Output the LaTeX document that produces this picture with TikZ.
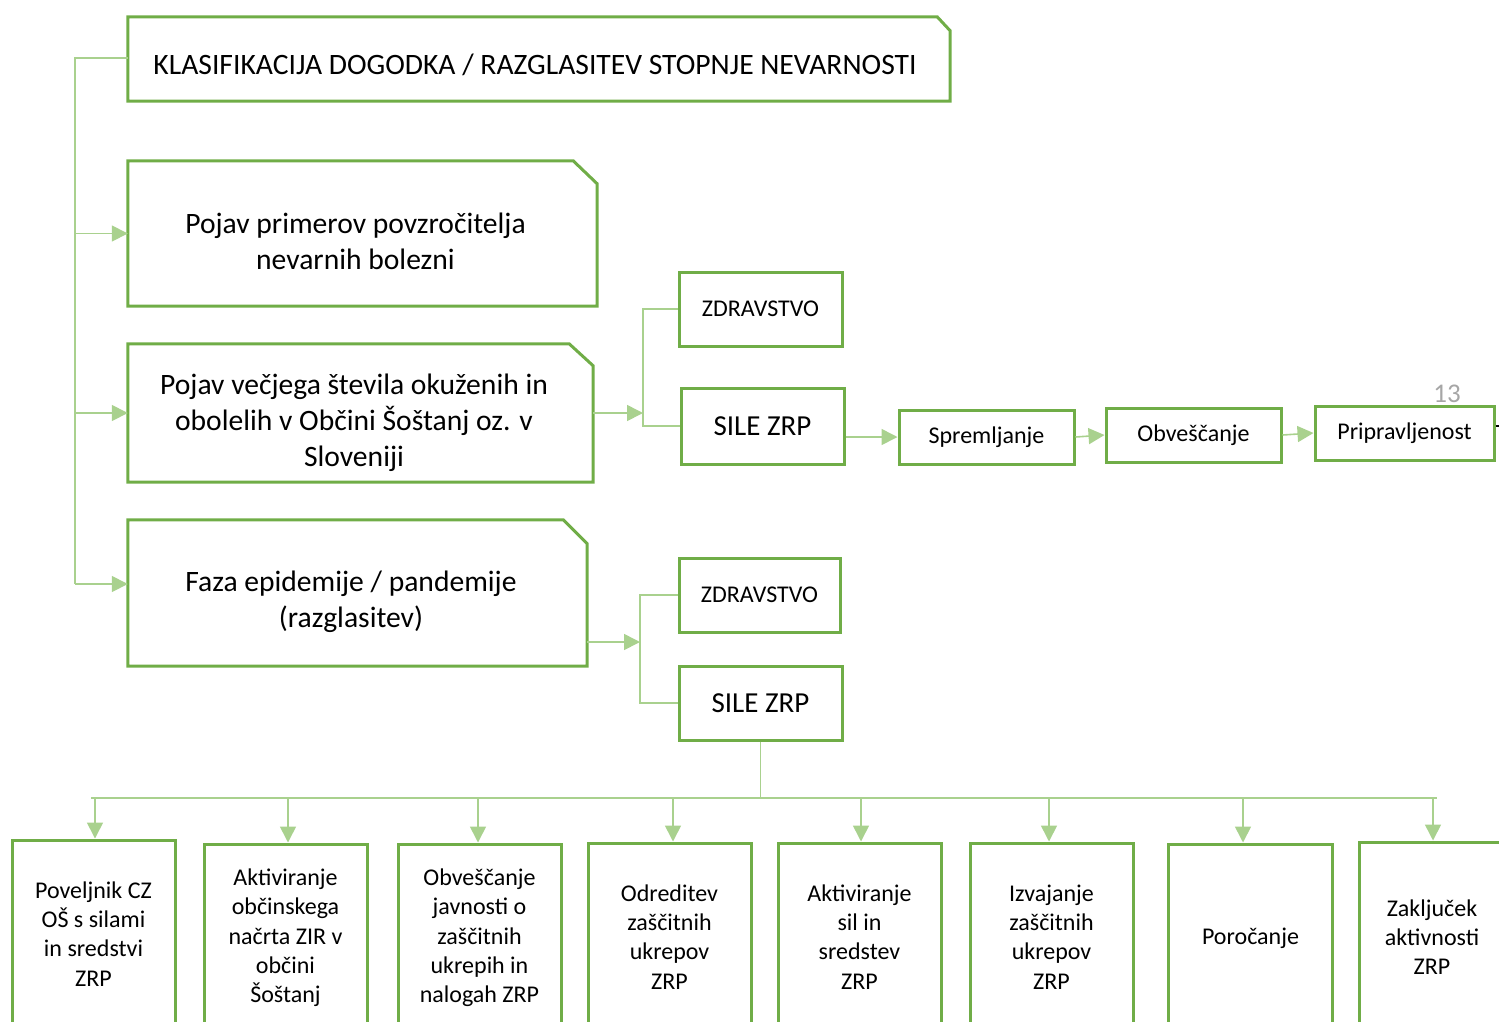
\documentclass[tikz,border=0pt]{standalone}
\usepackage{fontspec}
\setmainfont{Carlito}
\usetikzlibrary{arrows.meta}
\definecolor{boxgreen}{HTML}{70AD47}
\definecolor{linegreen}{HTML}{A9D18E}
\definecolor{pagegray}{HTML}{A6A6A6}
\begin{document}
\begin{tikzpicture}[x=1pt,y=-1pt,
  box/.style={draw=boxgreen, line width=3pt, inner sep=0pt},
  snipbox/.style={draw=none, inner sep=0pt},
  txt/.style={align=center, inner sep=0pt, text=black},
  big/.style={font=\fontsize{29.6}{35.8}\selectfont},
  bigbox/.style={box, font=\fontsize{29}{35}\selectfont, align=center},
  midbox/.style={box, font=\fontsize{24}{29.3}\selectfont, align=center},
  conn/.style={draw=linegreen, line width=1.6pt},
  arr/.style={conn, -{Triangle[length=16pt,width=16pt]}},
  snipline/.style={draw=boxgreen, line width=3pt, line join=miter}
]
\useasboundingbox (0,0) rectangle (1499,1021);
\clip (0,0) rectangle (1499,1021);

% ---- snip-corner boxes (outline holders) ----
\node[snipbox, minimum width=822pt, minimum height=84pt] (k) at (539,59) {};
\node[snipbox, minimum width=469pt, minimum height=145pt] (p1) at (362.5,233.5) {};
\node[snipbox, minimum width=465pt, minimum height=138pt] (p2) at (360.5,413) {};
\node[snipbox, minimum width=459pt, minimum height=146pt] (p3) at (357.5,593) {};

\draw[snipline] (k.south west) -- (k.north west) -- ([xshift=-13pt]k.north east) -- ([yshift=-14pt]k.north east) -- (k.south east) -- cycle;
\draw[snipline] (p1.south west) -- (p1.north west) -- ([xshift=-24pt]p1.north east) -- ([yshift=-23pt]p1.north east) -- (p1.south east) -- cycle;
\draw[snipline] (p2.south west) -- (p2.north west) -- ([xshift=-24pt]p2.north east) -- ([yshift=-22pt]p2.north east) -- (p2.south east) -- cycle;
\draw[snipline] (p3.south west) -- (p3.north west) -- ([xshift=-24pt]p3.north east) -- ([yshift=-24pt]p3.north east) -- (p3.south east) -- cycle;

\node[txt, big] (kt) at (535,65) {KLASIFIKACIJA DOGODKA / RAZGLASITEV STOPNJE NEVARNOSTI};
\node[txt, big] (p1t) at (355.5,241) {Pojav primerov povzročitelja\\nevarnih bolezni};
\node[txt, big] (p2t) at (354,422.5) {Pojav večjega števila okuženih in\\obolelih v Občini Šoštanj oz. v\\Sloveniji};
\node[txt, big] (p3t) at (351,601.5) {Faza epidemije / pandemije\\(razglasitev)};

% ---- middle boxes ----
\node[midbox, minimum width=163pt, minimum height=74pt] (z1) at (760.5,309) {ZDRAVSTVO};
\node[bigbox, minimum width=163pt, minimum height=76pt] (s1) at (762.5,426) {SILE ZRP};
\node[midbox, minimum width=175pt, minimum height=54pt] (sp) at (986.5,437) {Spremljanje};
\node[midbox, minimum width=175pt, minimum height=54pt] (ob) at (1193.5,435) {Obveščanje};
\node[midbox, minimum width=179pt, minimum height=54pt] (pr) at (1404.5,433) {Pripravljenost};
\node[midbox, minimum width=161pt, minimum height=74pt] (z2) at (759.5,595) {ZDRAVSTVO};
\node[bigbox, minimum width=163pt, minimum height=74pt] (s2) at (760.5,703) {SILE ZRP};

% ---- bottom boxes ----
\node[midbox, minimum width=163pt, minimum height=188pt] (b1) at (93.5,934) {Poveljnik CZ\\OŠ s silami\\in sredstvi\\ZRP};
\node[midbox, minimum width=163pt, minimum height=188pt] (b2) at (285.5,938) {Aktiviranje\\občinskega\\načrta ZIR v\\občini\\Šoštanj};
\node[midbox, minimum width=163pt, minimum height=188pt] (b3) at (479.5,938) {Obveščanje\\javnosti o\\zaščitnih\\ukrepih in\\nalogah ZRP};
\node[midbox, minimum width=163pt, minimum height=188pt] (b4) at (669.5,937) {Odreditev\\zaščitnih\\ukrepov\\ZRP};
\node[midbox, minimum width=163pt, minimum height=188pt] (b5) at (859.5,937) {Aktiviranje\\sil in\\sredstev\\ZRP};
\node[midbox, minimum width=163pt, minimum height=188pt] (b6) at (1051.5,937) {Izvajanje\\zaščitnih\\ukrepov\\ZRP};
\node[midbox, minimum width=164pt, minimum height=188pt] (b7) at (1250.5,938) {Poročanje};
\node[midbox, minimum width=146pt, minimum height=190pt] (b8) at (1432,937) {Zaključek\\aktivnosti\\ZRP};

% page number
\node[txt, text=pagegray, font=\fontsize{27}{30}\selectfont] (pg) at (1447,394) {13};

% ---- connectors ----
\coordinate (spine) at (75,58);
\draw[conn] (k.west |- spine) -- (spine) -- (75,584);
\draw[arr] (p1.west -| spine) -- (p1.west);
\draw[arr] (p2.west -| spine) -- (p2.west);
\draw[arr] (75,584) -- (p3.west |- 75,584);

\coordinate (j1) at (643,413);
\draw[arr] (p2.east) -- (j1);
\draw[conn] (z1.west) -| (j1) |- (s1.west);

\coordinate (j2) at (640,642);
\draw[arr] (p3.east |- j2) -- (j2);
\draw[conn] (z2.west) -| (j2) |- (s2.west);

\draw[arr] (s1.east |- sp.west) -- (sp.west);
\draw[arr] (sp.east) -- (ob.west);
\draw[arr] (ob.east) -- (pr.west);
\draw[black, line width=1.5pt] (pr.east |- 0,426) -- ++(8,0);

\coordinate (busL) at (91,798);
\coordinate (busR) at (1437,798);
\draw[conn] (s2.south) -- (s2.south |- busL);
\draw[conn] (busL) -- (busR);
\foreach \n/\x in {b1/95,b2/288,b3/478,b4/673,b5/861,b6/1049,b7/1243,b8/1433}{
  \draw[arr] (\x,798) -- (\x,798 |- \n.north);
}
\end{tikzpicture}
\end{document}
